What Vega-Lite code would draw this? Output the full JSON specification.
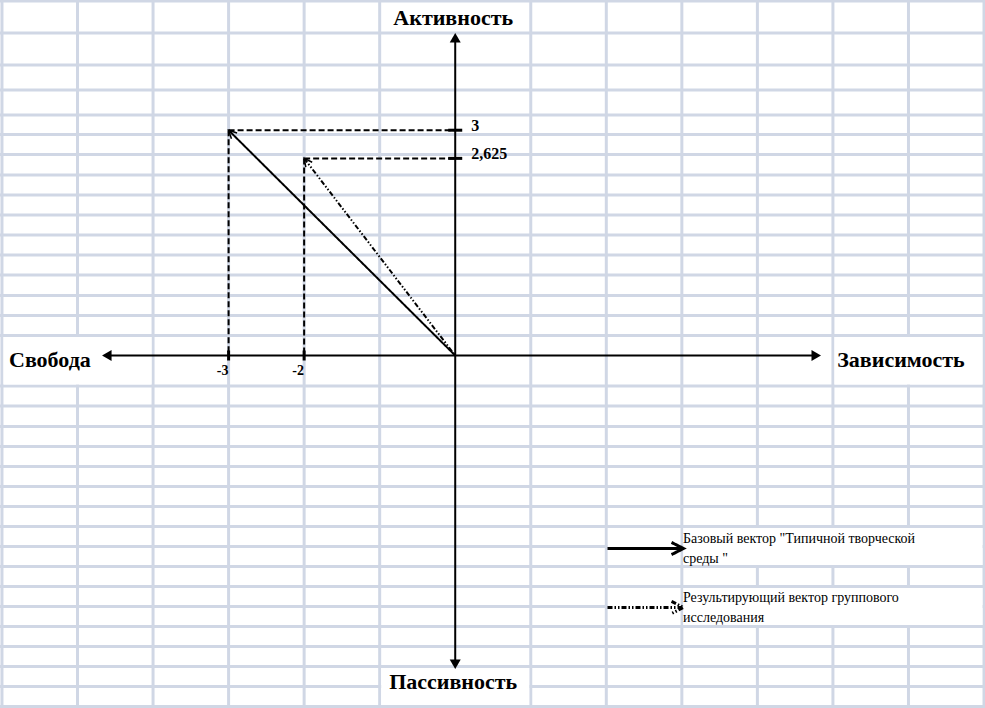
{
  "$schema": "https://vega.github.io/schema/vega-lite/v6.json",
  "width": 985,
  "height": 708,
  "padding": 0,
  "autosize": {"type": "none"},
  "background": "white",
  "config": {
    "view": {"stroke": null},
    "text": {"font": "Liberation Serif"},
    "locale": {"number": {"decimal": ",", "thousands": " ", "grouping": [3], "currency": ["", ""], "minus": "-"}}
  },
  "datasets": {
    "vectors": [
      {"series": "base", "x": -3, "y": 3},
      {"series": "result", "x": -2, "y": 2.625}
    ],
    "poles": [
      {"pole": "Зависимость", "x": 4.779, "y": 0},
      {"pole": "Свобода", "x": -4.612, "y": 0},
      {"pole": "Активность", "x": 0, "y": 4.23},
      {"pole": "Пассивность", "x": 0, "y": -4.11}
    ],
    "gridX": [
      {"gx": -6}, {"gx": -5}, {"gx": -4}, {"gx": -3}, {"gx": -2}, {"gx": -1},
      {"gx": 1}, {"gx": 2}, {"gx": 3}, {"gx": 4}, {"gx": 5}, {"gx": 6}, {"gx": 7}
    ],
    "gridY": [
      {"gy": 4.72}, {"gy": 4.294}, {"gy": 3.868}, {"gy": 3.535}, {"gy": 3.202}, {"gy": 2.943},
      {"gy": 2.676}, {"gy": 2.403}, {"gy": 2.137}, {"gy": 1.871}, {"gy": 1.605}, {"gy": 1.338},
      {"gy": 1.072}, {"gy": 0.799}, {"gy": 0.533}, {"gy": 0.266}, {"gy": -0.406}, {"gy": -0.672},
      {"gy": -0.945}, {"gy": -1.212}, {"gy": -1.478}, {"gy": -1.744}, {"gy": -2.011}, {"gy": -2.277},
      {"gy": -2.543}, {"gy": -2.81}, {"gy": -3.076}, {"gy": -3.342}, {"gy": -3.609}, {"gy": -3.875},
      {"gy": -4.141}, {"gy": -4.407}, {"gy": -4.674}
    ],
    "cells": [
      {"x": -0.98, "x2": 0.98, "y": -4.161, "y2": -4.654},
      {"x": -5.98, "x2": -4.02, "y": 0.246, "y2": -0.386},
      {"x": 5.02, "x2": 6.98, "y": 0.246, "y2": -0.386},
      {"x": 2.02, "x2": 2.98, "y": -2.297, "y2": -2.79},
      {"x": 3.02, "x2": 6.98, "y": -2.297, "y2": -2.79},
      {"x": 2.02, "x2": 2.98, "y": -3.096, "y2": -3.589},
      {"x": 3.02, "x2": 6.98, "y": -3.096, "y2": -3.589}
    ]
  },
  "layer": [
    {
      "data": {"name": "gridX"},
      "mark": {"type": "rule", "color": "#d0d7e5", "strokeWidth": 3},
      "encoding": {
        "x": {"field": "gx", "type": "quantitative", "scale": {"domain": [-6.026, 7.013], "nice": false, "zero": false}, "axis": null}
      }
    },
    {
      "data": {"name": "gridY"},
      "mark": {"type": "rule", "color": "#d0d7e5", "strokeWidth": 3},
      "encoding": {
        "y": {"field": "gy", "type": "quantitative", "scale": {"domain": [-4.694, 4.734], "nice": false, "zero": false}, "axis": null}
      }
    },
    {
      "data": {"name": "cells"},
      "mark": {"type": "rect", "color": "white"},
      "encoding": {
        "x": {"field": "x", "type": "quantitative", "scale": {"domain": [-6.026, 7.013], "nice": false, "zero": false}, "axis": null},
        "x2": {"field": "x2"},
        "y": {"field": "y", "type": "quantitative", "scale": {"domain": [-4.694, 4.734], "nice": false, "zero": false}, "axis": null},
        "y2": {"field": "y2"}
      }
    },
    {
      "data": {"name": "vectors"},
      "mark": {"type": "rule", "color": "black", "strokeWidth": 2, "strokeDash": [6, 3]},
      "encoding": {
        "x": {"field": "x", "type": "quantitative", "scale": {"domain": [-6.026, 7.013], "nice": false, "zero": false}, "axis": null},
        "x2": {"datum": 0},
        "y": {"field": "y", "type": "quantitative", "scale": {"domain": [-4.694, 4.734], "nice": false, "zero": false}, "axis": null}
      }
    },
    {
      "data": {"name": "vectors"},
      "mark": {"type": "rule", "color": "black", "strokeWidth": 2, "strokeDash": [6, 3]},
      "encoding": {
        "x": {"field": "x", "type": "quantitative", "scale": {"domain": [-6.026, 7.013], "nice": false, "zero": false}, "axis": null},
        "y": {"field": "y", "type": "quantitative", "scale": {"domain": [-4.694, 4.734], "nice": false, "zero": false}, "axis": null},
        "y2": {"datum": 0}
      }
    },
    {
      "data": {"name": "poles"},
      "mark": {"type": "rule", "color": "black", "strokeWidth": 2},
      "encoding": {
        "x": {"field": "x", "type": "quantitative", "scale": {"domain": [-6.026, 7.013], "nice": false, "zero": false}, "axis": null},
        "x2": {"datum": 0},
        "y": {"field": "y", "type": "quantitative", "scale": {"domain": [-4.694, 4.734], "nice": false, "zero": false}, "axis": null},
        "y2": {"datum": 0}
      }
    },
    {
      "data": {"name": "poles"},
      "mark": {"type": "point", "filled": true, "size": 121, "color": "black", "opacity": 1},
      "encoding": {
        "x": {"field": "x", "type": "quantitative", "scale": {"domain": [-6.026, 7.013], "nice": false, "zero": false}, "axis": null},
        "y": {"field": "y", "type": "quantitative", "scale": {"domain": [-4.694, 4.734], "nice": false, "zero": false}, "axis": null},
        "shape": {"field": "pole", "type": "nominal", "legend": null,
          "scale": {"domain": ["Зависимость", "Свобода", "Активность", "Пассивность"], "range": ["triangle-right", "triangle-left", "triangle-up", "triangle-down"]}}
      }
    },
    {
      "data": {"name": "poles"},
      "transform": [{"filter": "datum.pole == 'Активность'"}],
      "mark": {"type": "text", "align": "center", "baseline": "alphabetic", "dx": -2, "dy": -13, "fontSize": 22, "fontWeight": "bold", "color": "black"},
      "encoding": {
        "x": {"field": "x", "type": "quantitative", "scale": {"domain": [-6.026, 7.013], "nice": false, "zero": false}, "axis": null},
        "y": {"field": "y", "type": "quantitative", "scale": {"domain": [-4.694, 4.734], "nice": false, "zero": false}, "axis": null},
        "text": {"field": "pole"}
      }
    },
    {
      "data": {"name": "poles"},
      "transform": [{"filter": "datum.pole == 'Пассивность'"}],
      "mark": {"type": "text", "align": "center", "baseline": "alphabetic", "dx": -2, "dy": 25, "fontSize": 22, "fontWeight": "bold", "color": "black"},
      "encoding": {
        "x": {"field": "x", "type": "quantitative", "scale": {"domain": [-6.026, 7.013], "nice": false, "zero": false}, "axis": null},
        "y": {"field": "y", "type": "quantitative", "scale": {"domain": [-4.694, 4.734], "nice": false, "zero": false}, "axis": null},
        "text": {"field": "pole"}
      }
    },
    {
      "data": {"name": "poles"},
      "transform": [{"filter": "datum.pole == 'Свобода'"}],
      "mark": {"type": "text", "align": "right", "baseline": "alphabetic", "dx": -16, "dy": 11, "fontSize": 22, "fontWeight": "bold", "color": "black"},
      "encoding": {
        "x": {"field": "x", "type": "quantitative", "scale": {"domain": [-6.026, 7.013], "nice": false, "zero": false}, "axis": null},
        "y": {"field": "y", "type": "quantitative", "scale": {"domain": [-4.694, 4.734], "nice": false, "zero": false}, "axis": null},
        "text": {"field": "pole"}
      }
    },
    {
      "data": {"name": "poles"},
      "transform": [{"filter": "datum.pole == 'Зависимость'"}],
      "mark": {"type": "text", "align": "left", "baseline": "alphabetic", "dx": 21, "dy": 11, "fontSize": 22, "fontWeight": "bold", "color": "black"},
      "encoding": {
        "x": {"field": "x", "type": "quantitative", "scale": {"domain": [-6.026, 7.013], "nice": false, "zero": false}, "axis": null},
        "y": {"field": "y", "type": "quantitative", "scale": {"domain": [-4.694, 4.734], "nice": false, "zero": false}, "axis": null},
        "text": {"field": "pole"}
      }
    },
    {
      "data": {"name": "vectors"},
      "mark": {"type": "rule", "color": "black", "strokeWidth": 2},
      "encoding": {
        "x": {"field": "x", "type": "quantitative", "scale": {"domain": [-6.026, 7.013], "nice": false, "zero": false}, "axis": null},
        "x2": {"datum": 0},
        "y": {"field": "y", "type": "quantitative", "scale": {"domain": [-4.694, 4.734], "nice": false, "zero": false}, "axis": null},
        "y2": {"datum": 0},
        "strokeDash": {
          "field": "series", "type": "nominal",
          "scale": {"domain": ["base", "result"], "range": [[1, 0], [5, 2, 1.5, 2, 1.5, 2]]},
          "legend": {
            "title": null, "orient": "none", "legendX": 606, "legendY": 528, "padding": 0,
            "symbolType": "M-1,0L3,0M2.37,-0.32L3,0L2.37,0.32",
            "symbolSize": 1444, "symbolStrokeWidth": 3, "symbolStrokeColor": "black", "symbolFillColor": "transparent",
            "labelOffset": 36, "labelFont": "Liberation Serif", "labelFontSize": 14, "labelColor": "black", "labelLimit": 400,
            "rowPadding": 21,
            "labelExpr": "datum.value == 'base' ? ['Базовый вектор \"Типичной творческой', 'среды \"'] : ['Результирующий вектор группового', 'исследования']",
            "encode": {"labels": {"update": {"lineHeight": {"value": 20}, "dy": {"value": -10}}}}
          }
        }
      }
    },
    {
      "data": {"name": "vectors"},
      "transform": [{"filter": "datum.series == 'base'"}],
      "mark": {"type": "point", "shape": "M-1.6,-0.8L0,0L-1.6,0.8", "size": 100, "filled": false, "color": "black", "strokeWidth": 1.5, "opacity": 1, "angle": 224.8},
      "encoding": {
        "x": {"field": "x", "type": "quantitative", "scale": {"domain": [-6.026, 7.013], "nice": false, "zero": false}, "axis": null},
        "y": {"field": "y", "type": "quantitative", "scale": {"domain": [-4.694, 4.734], "nice": false, "zero": false}, "axis": null}
      }
    },
    {
      "data": {"name": "vectors"},
      "transform": [{"filter": "datum.series == 'result'"}],
      "mark": {"type": "point", "shape": "M-1.6,-0.8L0,0L-1.6,0.8", "size": 100, "filled": false, "color": "black", "strokeWidth": 1.5, "opacity": 1, "angle": 232.5},
      "encoding": {
        "x": {"field": "x", "type": "quantitative", "scale": {"domain": [-6.026, 7.013], "nice": false, "zero": false}, "axis": null},
        "y": {"field": "y", "type": "quantitative", "scale": {"domain": [-4.694, 4.734], "nice": false, "zero": false}, "axis": null}
      }
    },
    {
      "data": {"name": "vectors"},
      "mark": {"type": "point", "shape": "M0,-1L0,1", "size": 100, "filled": false, "color": "black", "strokeWidth": 3, "opacity": 1},
      "encoding": {
        "x": {"field": "x", "type": "quantitative", "scale": {"domain": [-6.026, 7.013], "nice": false, "zero": false}, "axis": null},
        "y": {"datum": 0, "type": "quantitative", "scale": {"domain": [-4.694, 4.734], "nice": false, "zero": false}, "axis": null}
      }
    },
    {
      "data": {"name": "vectors"},
      "mark": {"type": "point", "shape": "M-1,0L1,0", "size": 196, "filled": false, "color": "black", "strokeWidth": 3, "opacity": 1},
      "encoding": {
        "x": {"datum": 0, "type": "quantitative", "scale": {"domain": [-6.026, 7.013], "nice": false, "zero": false}, "axis": null},
        "y": {"field": "y", "type": "quantitative", "scale": {"domain": [-4.694, 4.734], "nice": false, "zero": false}, "axis": null}
      }
    },
    {
      "data": {"name": "vectors"},
      "mark": {"type": "text", "align": "center", "baseline": "middle", "dx": -6, "dy": 15, "fontSize": 14, "fontWeight": "bold", "color": "black"},
      "encoding": {
        "x": {"field": "x", "type": "quantitative", "scale": {"domain": [-6.026, 7.013], "nice": false, "zero": false}, "axis": null},
        "y": {"datum": 0, "type": "quantitative", "scale": {"domain": [-4.694, 4.734], "nice": false, "zero": false}, "axis": null},
        "text": {"field": "x", "type": "quantitative", "format": "d"}
      }
    },
    {
      "data": {"name": "vectors"},
      "mark": {"type": "text", "align": "left", "baseline": "middle", "dx": 16, "dy": -4, "fontSize": 16, "fontWeight": "bold", "color": "black"},
      "encoding": {
        "x": {"datum": 0, "type": "quantitative", "scale": {"domain": [-6.026, 7.013], "nice": false, "zero": false}, "axis": null},
        "y": {"field": "y", "type": "quantitative", "scale": {"domain": [-4.694, 4.734], "nice": false, "zero": false}, "axis": null},
        "text": {"field": "y", "type": "quantitative", "format": "~g"}
      }
    }
  ]
}
